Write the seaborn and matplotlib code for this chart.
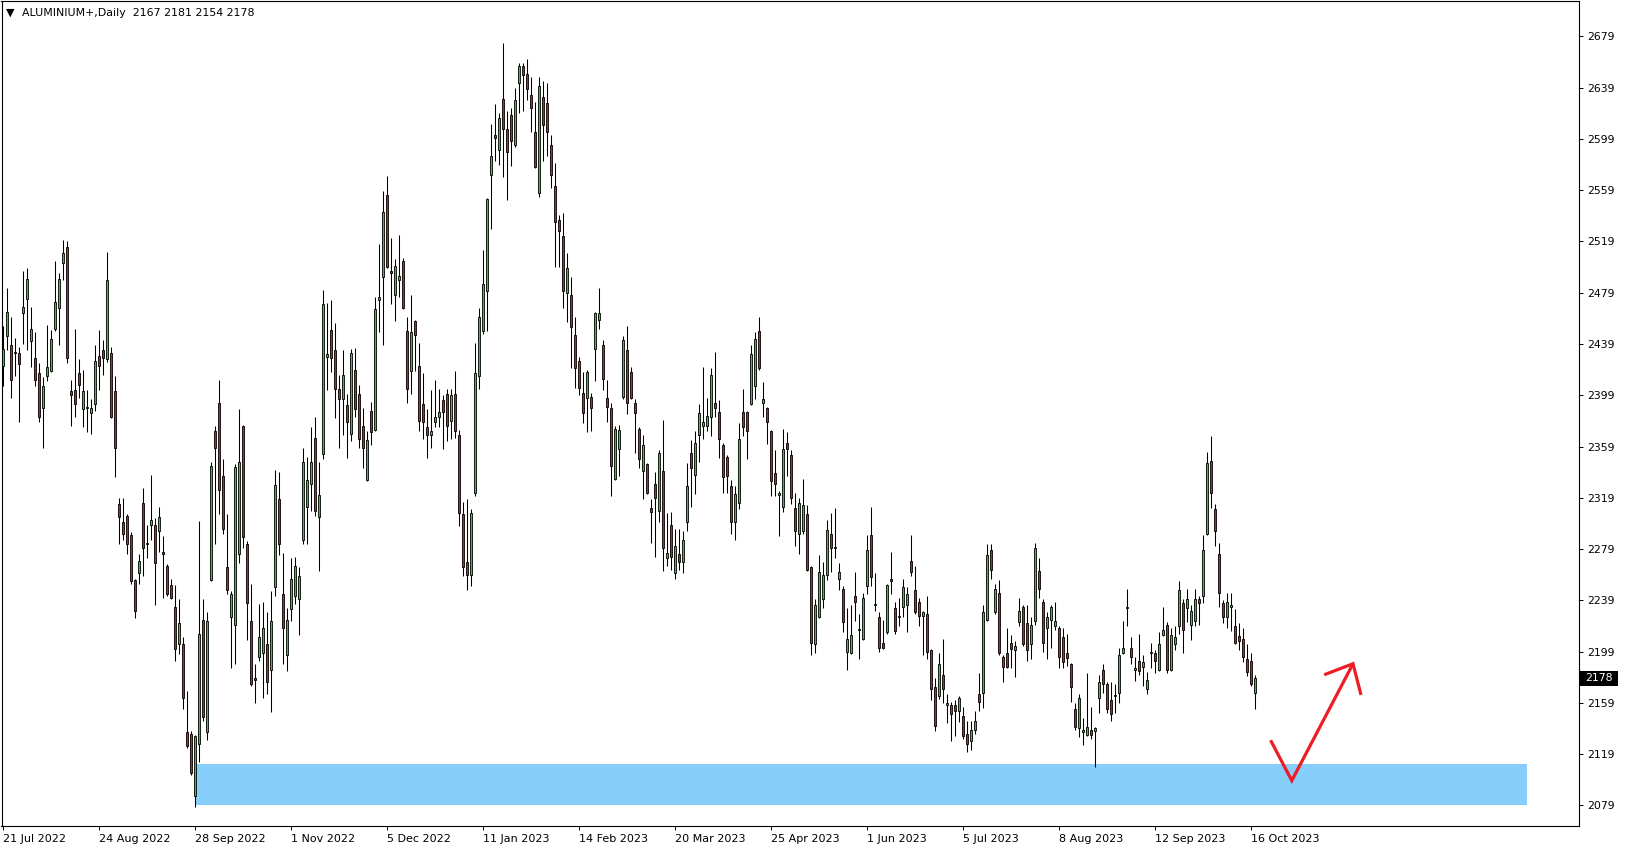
import numpy as np
import pandas as pd
import matplotlib
matplotlib.use("Agg")
import matplotlib.pyplot as plt
import matplotlib.transforms as mtransforms
from matplotlib.patches import Rectangle
import seaborn as sns

# === Daily OHLC (one value per bar) ===
opens = [
    2422, 2445, 2438, 2432, 2432, 2463, 2474, 2441, 2428, 2416,
    2389, 2414, 2418, 2451, 2467, 2502, 2515, 2402, 2403, 2416,
    2388, 2389, 2385, 2392, 2430, 2434, 2427, 2432, 2402, 2314,
    2300, 2305, 2290, 2255, 2260, 2315, 2283, 2298, 2298, 2293,
    2277, 2266, 2251, 2234, 2205, 2205, 2136, 2135, 2086, 2127,
    2224, 2136, 2255, 2371, 2393, 2336, 2265, 2226, 2220, 2275,
    2375, 2283, 2223, 2178, 2195, 2198, 2205, 2185, 2249, 2318,
    2244, 2196, 2232, 2242, 2240, 2286, 2312, 2330, 2366, 2304,
    2353, 2429, 2450, 2434, 2404, 2396, 2391, 2369, 2419, 2400,
    2375, 2333, 2387, 2372, 2473, 2491, 2555, 2496, 2477, 2489,
    2504, 2449, 2418, 2457, 2422, 2392, 2374, 2368, 2378, 2382,
    2395, 2400, 2379, 2400, 2368, 2306, 2269, 2259, 2323, 2414,
    2449, 2480, 2571, 2602, 2590, 2630, 2607, 2618, 2594, 2643,
    2656, 2650, 2633, 2604, 2557, 2632, 2627, 2594, 2562, 2536,
    2523, 2479, 2477, 2446, 2426, 2401, 2397, 2398, 2435, 2458,
    2438, 2397, 2389, 2334, 2357, 2398, 2434, 2417, 2393, 2373,
    2340, 2345, 2311, 2330, 2309, 2340, 2272, 2298, 2260, 2275,
    2269, 2300, 2354, 2337, 2368, 2375, 2375, 2382, 2393, 2386,
    2360, 2351, 2328, 2300, 2315, 2386, 2386, 2392, 2406, 2449,
    2393, 2389, 2371, 2338, 2321, 2312, 2362, 2352, 2311, 2291,
    2293, 2306, 2265, 2205, 2226, 2240, 2259, 2291, 2280, 2256,
    2248, 2199, 2198, 2242, 2216, 2209, 2250, 2290, 2235, 2226,
    2206, 2214, 2256, 2233, 2226, 2234, 2235, 2270, 2247, 2238,
    2227, 2228, 2200, 2171, 2164, 2181, 2157, 2157, 2157, 2153,
    2149, 2135, 2129, 2138, 2166, 2167, 2224, 2278, 2230, 2245,
    2195, 2198, 2206, 2200, 2222, 2234, 2221, 2205, 2223, 2262,
    2238, 2217, 2224, 2219, 2217, 2210, 2198, 2189, 2154, 2139,
    2136, 2134, 2138, 2137, 2163, 2185, 2174, 2161, 2164, 2167,
    2198, 2233, 2202, 2185, 2192, 2187, 2170, 2198, 2198, 2185,
    2212, 2220, 2185, 2205, 2219, 2237, 2233, 2220, 2223, 2240,
    2242, 2291, 2348, 2310, 2275, 2237, 2226, 2234, 2219, 2211,
    2209, 2193, 2192, 2167,
]
highs = [
    2453, 2483, 2460, 2444, 2437, 2496, 2498, 2468, 2448, 2424,
    2413, 2454, 2450, 2504, 2494, 2520, 2519, 2411, 2451, 2427,
    2419, 2403, 2396, 2438, 2450, 2442, 2511, 2437, 2414, 2319,
    2319, 2306, 2292, 2256, 2275, 2327, 2298, 2337, 2303, 2312,
    2289, 2267, 2256, 2251, 2240, 2210, 2168, 2137, 2134, 2301,
    2240, 2230, 2347, 2375, 2411, 2349, 2306, 2246, 2345, 2388,
    2376, 2285, 2252, 2189, 2236, 2238, 2230, 2246, 2341, 2339,
    2276, 2233, 2272, 2273, 2265, 2358, 2351, 2374, 2382, 2347,
    2481, 2471, 2473, 2455, 2415, 2434, 2400, 2435, 2436, 2407,
    2389, 2371, 2394, 2476, 2517, 2558, 2570, 2522, 2505, 2524,
    2506, 2460, 2477, 2458, 2440, 2416, 2388, 2403, 2411, 2404,
    2399, 2404, 2404, 2418, 2372, 2316, 2318, 2310, 2440, 2467,
    2512, 2553, 2611, 2626, 2619, 2674, 2621, 2623, 2639, 2658,
    2658, 2661, 2647, 2628, 2647, 2644, 2643, 2602, 2580, 2540,
    2541, 2510, 2491, 2460, 2429, 2417, 2419, 2401, 2464, 2483,
    2442, 2411, 2393, 2375, 2376, 2445, 2453, 2421, 2396, 2374,
    2368, 2346, 2318, 2339, 2356, 2380, 2307, 2308, 2295, 2295,
    2293, 2346, 2364, 2371, 2392, 2421, 2397, 2420, 2433, 2395,
    2362, 2352, 2333, 2328, 2377, 2404, 2387, 2438, 2448, 2460,
    2409, 2390, 2372, 2356, 2324, 2373, 2370, 2356, 2323, 2319,
    2334, 2313, 2266, 2240, 2274, 2269, 2302, 2307, 2311, 2268,
    2250, 2233, 2235, 2261, 2228, 2245, 2290, 2312, 2260, 2230,
    2224, 2252, 2277, 2238, 2241, 2256, 2249, 2290, 2266, 2241,
    2231, 2242, 2201, 2178, 2198, 2209, 2166, 2160, 2161, 2164,
    2156, 2145, 2145, 2153, 2182, 2235, 2283, 2283, 2252, 2255,
    2196, 2217, 2212, 2207, 2241, 2235, 2235, 2226, 2284, 2272,
    2240, 2230, 2235, 2238, 2219, 2217, 2213, 2190, 2159, 2166,
    2147, 2182, 2156, 2140, 2181, 2189, 2175, 2175, 2174, 2202,
    2223, 2248, 2210, 2195, 2213, 2196, 2183, 2206, 2200, 2214,
    2234, 2222, 2217, 2219, 2254, 2240, 2248, 2235, 2248, 2242,
    2290, 2355, 2367, 2314, 2284, 2239, 2245, 2245, 2232, 2221,
    2217, 2205, 2198, 2181,
]
lows = [
    2406, 2434, 2397, 2414, 2378, 2439, 2434, 2421, 2406, 2378,
    2358, 2410, 2417, 2449, 2438, 2489, 2424, 2375, 2382, 2397,
    2374, 2370, 2369, 2387, 2403, 2415, 2425, 2381, 2335, 2283,
    2286, 2275, 2252, 2225, 2252, 2258, 2272, 2286, 2235, 2277,
    2241, 2242, 2240, 2192, 2197, 2154, 2124, 2103, 2078, 2113,
    2145, 2130, 2254, 2283, 2306, 2291, 2244, 2186, 2189, 2268,
    2280, 2208, 2172, 2159, 2192, 2163, 2166, 2152, 2242, 2274,
    2189, 2184, 2223, 2236, 2212, 2283, 2283, 2309, 2305, 2262,
    2349, 2403, 2417, 2381, 2358, 2368, 2350, 2363, 2382, 2358,
    2342, 2332, 2360, 2371, 2448, 2438, 2498, 2470, 2457, 2476,
    2466, 2393, 2400, 2418, 2371, 2365, 2350, 2358, 2374, 2374,
    2357, 2363, 2365, 2366, 2297, 2258, 2247, 2250, 2320, 2404,
    2447, 2449, 2529, 2582, 2579, 2569, 2551, 2578, 2593, 2619,
    2621, 2629, 2604, 2576, 2554, 2582, 2586, 2561, 2499, 2499,
    2467, 2456, 2420, 2405, 2399, 2377, 2370, 2371, 2410, 2451,
    2403, 2378, 2320, 2333, 2336, 2396, 2384, 2396, 2354, 2342,
    2318, 2322, 2284, 2273, 2300, 2262, 2266, 2263, 2256, 2263,
    2260, 2293, 2312, 2322, 2347, 2365, 2371, 2367, 2382, 2350,
    2323, 2323, 2291, 2286, 2310, 2367, 2349, 2391, 2396, 2419,
    2382, 2361, 2320, 2320, 2289, 2308, 2336, 2314, 2281, 2275,
    2291, 2262, 2196, 2198, 2225, 2233, 2255, 2261, 2272, 2247,
    2214, 2185, 2197, 2223, 2193, 2208, 2244, 2250, 2231, 2199,
    2201, 2213, 2244, 2213, 2219, 2226, 2214, 2258, 2228, 2219,
    2196, 2193, 2161, 2137, 2162, 2159, 2143, 2129, 2133, 2144,
    2131, 2121, 2122, 2135, 2153, 2155, 2223, 2256, 2228, 2196,
    2175, 2186, 2186, 2179, 2219, 2203, 2192, 2193, 2220, 2241,
    2199, 2193, 2202, 2216, 2186, 2186, 2188, 2160, 2138, 2132,
    2126, 2133, 2131, 2109, 2151, 2167, 2151, 2145, 2151, 2159,
    2197, 2219, 2189, 2176, 2181, 2172, 2166, 2186, 2182, 2184,
    2211, 2182, 2184, 2200, 2213, 2198, 2222, 2208, 2219, 2220,
    2237, 2290, 2311, 2281, 2234, 2221, 2217, 2215, 2205, 2200,
    2191, 2180, 2172, 2154,
]
closes = [
    2435, 2464, 2411, 2433, 2423, 2468, 2490, 2451, 2411, 2382,
    2406, 2421, 2443, 2472, 2490, 2510, 2428, 2399, 2392, 2407,
    2402, 2389, 2389, 2426, 2422, 2428, 2489, 2382, 2358, 2304,
    2291, 2283, 2254, 2231, 2270, 2280, 2283, 2302, 2268, 2304,
    2275, 2244, 2241, 2201, 2221, 2163, 2125, 2104, 2133, 2213,
    2148, 2223, 2344, 2358, 2325, 2295, 2247, 2244, 2343, 2347,
    2288, 2237, 2174, 2177, 2210, 2217, 2175, 2223, 2329, 2283,
    2217, 2224, 2256, 2266, 2258, 2347, 2333, 2347, 2309, 2321,
    2470, 2431, 2428, 2404, 2396, 2415, 2378, 2432, 2388, 2365,
    2358, 2364, 2370, 2466, 2476, 2542, 2499, 2494, 2500, 2492,
    2467, 2404, 2448, 2446, 2379, 2378, 2368, 2371, 2382, 2386,
    2386, 2375, 2399, 2371, 2307, 2265, 2259, 2307, 2416, 2460,
    2486, 2552, 2586, 2600, 2615, 2607, 2589, 2597, 2629, 2656,
    2649, 2638, 2623, 2577, 2640, 2610, 2604, 2571, 2534, 2527,
    2480, 2498, 2452, 2420, 2405, 2385, 2417, 2389, 2463, 2463,
    2412, 2390, 2344, 2373, 2372, 2442, 2393, 2397, 2385, 2349,
    2360, 2323, 2308, 2319, 2354, 2280, 2276, 2273, 2281, 2269,
    2286, 2328, 2342, 2362, 2385, 2378, 2383, 2415, 2389, 2365,
    2335, 2336, 2300, 2322, 2365, 2374, 2371, 2431, 2443, 2420,
    2396, 2378, 2332, 2330, 2323, 2357, 2357, 2319, 2293, 2315,
    2313, 2263, 2206, 2235, 2261, 2259, 2294, 2280, 2280, 2261,
    2222, 2209, 2212, 2238, 2216, 2241, 2278, 2257, 2235, 2202,
    2202, 2251, 2254, 2215, 2226, 2249, 2244, 2261, 2230, 2227,
    2230, 2199, 2170, 2141, 2189, 2170, 2159, 2150, 2153, 2163,
    2133, 2127, 2138, 2145, 2160, 2230, 2274, 2263, 2248, 2198,
    2187, 2187, 2201, 2203, 2231, 2205, 2200, 2220, 2280, 2248,
    2206, 2226, 2234, 2223, 2195, 2191, 2194, 2171, 2140, 2163,
    2138, 2140, 2134, 2139, 2175, 2174, 2154, 2150, 2164, 2196,
    2202, 2234, 2195, 2185, 2184, 2191, 2177, 2198, 2192, 2205,
    2216, 2185, 2212, 2210, 2247, 2216, 2240, 2231, 2240, 2237,
    2278, 2346, 2323, 2293, 2245, 2226, 2238, 2235, 2206, 2207,
    2195, 2183, 2174, 2178,
]

# === Axis labels ===
date_labels = ["21 Jul 2022", "24 Aug 2022", "28 Sep 2022", "1 Nov 2022",
               "5 Dec 2022", "11 Jan 2023", "14 Feb 2023", "20 Mar 2023",
               "25 Apr 2023", "1 Jun 2023", "5 Jul 2023", "8 Aug 2023",
               "12 Sep 2023", "16 Oct 2023"]
bars_per_label = 24
price_ticks = list(range(2079, 2680, 40))
title = "ALUMINIUM+,Daily  2167 2181 2154 2178"
last_price = 2178

# === Drawings on the chart ===
zone_bars = [48, 381]
zone_prices = [2079, 2111]
arrow_bars = [316.9, 322.2, 337.5]
arrow_prices = [2129.8, 2098.3, 2189.5]
head_bars = [330.3, 337.5, 339.5]
head_prices = [2180.9, 2189.5, 2165.2]

# === Frame ===
df = pd.DataFrame({"open": opens, "high": highs, "low": lows, "close": closes})
df["bar"] = np.arange(len(df))
df["bull"] = df["close"] >= df["open"]
df["body_lo"] = df[["open", "close"]].min(axis=1)
df["body_h"] = (df["close"] - df["open"]).abs().clip(lower=0.8)

GREEN = "#22d422"
RED = "#dc1a1a"
ZONE = "#87cefa"
ARROW = "#ee1c24"

sns.set_theme(style="white")
plt.rcParams["font.family"] = ["DejaVu Sans"]

W, H, DPI = 1629, 850, 100
fig = plt.figure(figsize=(W / DPI, H / DPI), dpi=DPI)
fig.patch.set_facecolor("white")
ax = fig.add_axes([1.5 / W, 1 - 826 / H, 1577.5 / W, 825 / H])
ax.set_facecolor("white")

# zone
ax.fill_between(zone_bars, zone_prices[0], zone_prices[1], color=ZONE, lw=0, zorder=1)

# candles
ax.vlines(df["bar"], df["low"], df["high"], color="black", lw=0.75, zorder=3)
ax.bar(df["bar"], df["body_h"], bottom=df["body_lo"], width=0.62,
       color=np.where(df["bull"], GREEN, RED), edgecolor="black",
       linewidth=0.6, zorder=4)

# red arrow
ax.plot(arrow_bars, arrow_prices, color=ARROW, lw=2.3, solid_joinstyle="miter",
        solid_capstyle="butt", zorder=5)
ax.plot(head_bars, head_prices, color=ARROW, lw=2.3, solid_joinstyle="miter",
        solid_capstyle="butt", zorder=5)

# axes limits and frame
ax.set_xlim(-0.375, 394.0)
ax.set_ylim(2062.9, 2706.6)
for s in ax.spines.values():
    s.set_color("black")
    s.set_linewidth(0.8)

ax.yaxis.tick_right()
ax.set_yticks(price_ticks)
ax.set_yticklabels([str(p) for p in price_ticks])
ax.tick_params(axis="y", direction="out", length=2.9, width=0.7, pad=2.9,
               labelsize=7.8, colors="black", right=True, left=False)

ax.set_xticks([i * bars_per_label for i in range(len(date_labels))])
ax.set_xticklabels(date_labels)
ax.tick_params(axis="x", direction="out", length=3.2, width=0.7, pad=2.2,
               labelsize=8, colors="black", bottom=True)
for lbl in ax.get_xticklabels():
    lbl.set_horizontalalignment("left")
ax.grid(False)

# last price marker on the right scale
trans = mtransforms.blended_transform_factory(ax.transAxes, ax.transData)
ax_w = 1577.5
ax.add_patch(Rectangle((1.0008, last_price - 5.6), 38 / ax_w, 11.2, transform=trans,
                       facecolor="black", edgecolor="none", clip_on=False, zorder=6))
ax.text(1.0 + 6.5 / ax_w, last_price, str(last_price), transform=trans, color="white",
        fontsize=7.8, ha="left", va="center", clip_on=False, zorder=7)

# header
fig.text(5.5 / W, 1 - 12.5 / H, "\u25bc", fontsize=8, ha="left", va="center", color="black")
fig.text(21.5 / W, 1 - 12.5 / H, title, fontsize=7.9, ha="left", va="center", color="black")

fig.savefig("out.png", dpi=DPI)
